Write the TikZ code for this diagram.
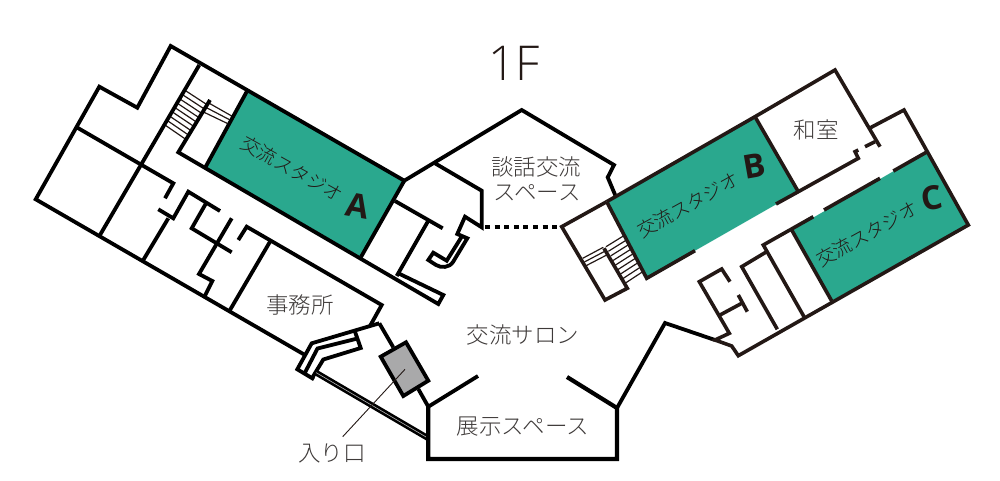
\documentclass[tikz,border=0pt]{standalone}
\usepackage{fontspec}
\setmainfont{Noto Sans CJK JP Light}
\newfontfamily\latinfont{Open Sans}
\newfontfamily\lightfont{Open Sans Light}
\begin{document}
\begin{tikzpicture}[x=1pt,y=-1pt,line join=miter,line cap=butt,
  wallk/.style={draw=black,line width=3.8pt},
  wallr/.style={draw=wallbrown,line width=3.6pt},
  stepk/.style={draw=wallbrown,line width=1.2pt},
  label/.style={text=labelgray,font=\fontsize{22.5}{26}\selectfont,inner sep=0pt},
  studiolabel/.style={text=wallbrown,font=\fontsize{18.8}{22}\selectfont,inner sep=0pt},
  letter/.style={text=wallbrown,font=\latinfont\bfseries\fontsize{33}{38}\selectfont,inner sep=0pt}]
\definecolor{wallbrown}{HTML}{231815}
\definecolor{labelgray}{HTML}{3E3A39}
\definecolor{studio}{HTML}{2AA88E}
\definecolor{door}{HTML}{A9A9AA}
\definecolor{slit}{HTML}{B5B5B5}
\useasboundingbox (0,0) rectangle (1000,481);
% green studios
\fill[studio] (246.7,91.7)--(404.3,180.7)--(361,257)--(205.7,166.7)--cycle;
\fill[studio] (606.7,201.7)--(755,116.7)--(798.3,191.7)--(646.7,278.3)--cycle;
\fill[studio] (791.7,230)--(927.3,151.7)--(968.3,225)--(831.7,301)--cycle;
% stairs A
\foreach \i in {0,...,8}{
  \draw[stepk] ({186-\i*2.63},{91+\i*4.25})--({207.5-\i*2.7},{105+\i*4.3});}
\foreach \i in {0,1,2}{
  \draw[stepk] ({209.3-\i*2.6},{103.3+\i*4.5})--({231.7-\i*2.2},{116+\i*3.7});}
% stairs B
\foreach \i in {0,...,8}{
  \draw[stepk] ({606+\i*2.375},{246.7+\i*4.58})--({623.3+\i*2.43},{236+\i*4.46});}
\foreach \i in {0,1,2}{
  \draw[stepk] ({582.7+\i*1.7},{258.3+\i*3.7})--({603.3+\i*1.7},{247.3+\i*3.85});}
% left wing
\draw[wallk] (404.3,180.7)--(170.7,46)--(137.3,107.7)--(99.3,86.7)--(35.7,199.3)--(305,355);
\draw[wallk] (199.3,65)--(100,235);
\draw[wallk] (76.7,127.3)--(173.3,183.3)--(165,198.3);
\draw[wallk] (246.7,91.7)--(205.7,166.7);
\draw[wallk] (210,100)--(178.3,152.3)--(438.3,304)--(443.3,295)--(398.3,273.3);
\draw[wallk] (404.3,180.7)--(361,257);
\draw[wallk] (395,201)--(442.7,228.3);
\draw[wallk] (428.3,220.7)--(396.7,276);
\draw[wallk] (158.3,209.3)--(173.3,218.3)--(188.3,191.7)--(220,211);
\draw[wallk] (168.3,218.3)--(143.3,260);
\draw[wallk] (206,203.3)--(191.7,228.3)--(231.7,252.3);
\draw[wallk] (231.7,218.3)--(199,274)--(212.3,281)--(205,295.7);
\draw[wallk] (238.3,240)--(246.7,226.7)--(381.7,305)--(370,326);
\draw[wallk] (270,241.7)--(230,310);
% entrance
\draw[wallk] (379.3,323.3)--(311.7,343.3)--(297.3,369.3)--(314,379.3);
\draw[wallk] (355,331.7)--(360.7,348)--(323.3,359.5)--(311.5,379);
\draw[wallk] (357.5,338.5)--(317.5,348.5)--(304.5,373.5);
\draw[black,line width=5.8pt] (316,372.6)--(428.3,438.3);
\draw[slit,line width=.6pt] (316,372.6)--(428.3,438.3);
\draw[wallk] (379.3,323.3)--(393.3,347.3);
\draw[black,line width=3.8pt,fill=door] (380.7,356.7)--(406,342.3)--(428.3,380.7)--(403.3,396)--cycle;
\draw[wallk] (418.3,389)--(428.3,406.7)--(478,376);
\draw[wallk,line width=4.2pt] (428.3,405)--(428.3,459)--(617,459)--(617,408)--(567,377);
\draw[wallk] (617,408)--(665,323)--(715,340);
\draw[wallbrown,line width=.9pt] (405,369.3)--(342.7,436.7);
% talk space
\draw[wallk] (404.3,180.7)--(521.7,110)--(614,165)--(607.7,177.3)--(616,197);
\draw[wallk] (435,163.3)--(481.7,190.7)--(481.7,227.3)--(465,216.7)--(457.3,234)--(467.3,238.3)
  --(453,262) .. controls (449,268) and (441,268) .. (436,265)--(428.3,260)--(433.3,252.7)--(446.7,260.7)--(461.7,236.7);
\draw[wallk,dash pattern=on 5pt off 4.6pt] (485,226.7)--(561,226.7);
% right wing
\draw[wallr] (606.7,201.7)--(755,116.7)--(835,70)--(880,146.7);
\draw[wallr] (606.7,201.7)--(561.7,226.7)--(605,300)--(627.3,288.3)--(604,248.3);
\draw[wallr] (606.7,201.7)--(646.7,278.3)--(695,250.7);
\draw[wallr] (755,116.7)--(798.3,191.7);
\draw[wallr] (776,204)--(798.3,191.7)--(858.3,158.3)--(855,151.7)--(858.3,150);
\draw[wallr] (865,146.7)--(875,141.7);
\draw[wallr] (869.3,128.3)--(904,110)--(968.3,225)--(738.3,355.7)--(731.7,346)--(715,340)--(729.3,333.3)--(699.3,281.7)--(721.7,269)--(730,281.7);
\draw[wallr] (720,315)--(741.7,303.3);
\draw[wallr] (738.3,295)--(747.3,311.7);
\draw[wallr] (777.3,329.3)--(741.7,266.7)--(766.7,251.7);
\draw[wallr] (804,316.7)--(763.3,245)--(813.3,216.7);
\draw[wallr] (791.7,230)--(831.7,301);
\draw[wallr] (824,210)--(880,178.3);
\draw[wallr] (893.3,171)--(927.3,151.7);
% labels
\node[text=wallbrown,font=\lightfont\fontsize{48}{54}\selectfont,inner sep=0pt] (title) at (514,63) {1F};
\node[label] (talka) at (536,167) {談話交流};
\node[label] (talkb) at (537,193) {スペース};
\node[label] (salon) at (523,335) {交流サロン};
\node[label] (exhibit) at (523,427) {展示スペース};
\node[label] (washitsu) at (816,130) {和室};
\node[label] (office) at (300,305) {事務所};
\node[label] (entry) at (332,453) {入り口};
\node[studiolabel,rotate=-29] (stA) at (292,169) {交流スタジオ};
\node[studiolabel,rotate=29] (stB) at (688,205) {交流スタジオ};
\node[studiolabel,rotate=29] (stC) at (867,234) {交流スタジオ};
\node[letter,rotate=-10] (letA) at (358,206) {A};
\node[letter,rotate=10] (letB) at (754,166) {B};
\node[letter,rotate=10] (letC) at (932,198) {C};
\end{tikzpicture}
\end{document}
